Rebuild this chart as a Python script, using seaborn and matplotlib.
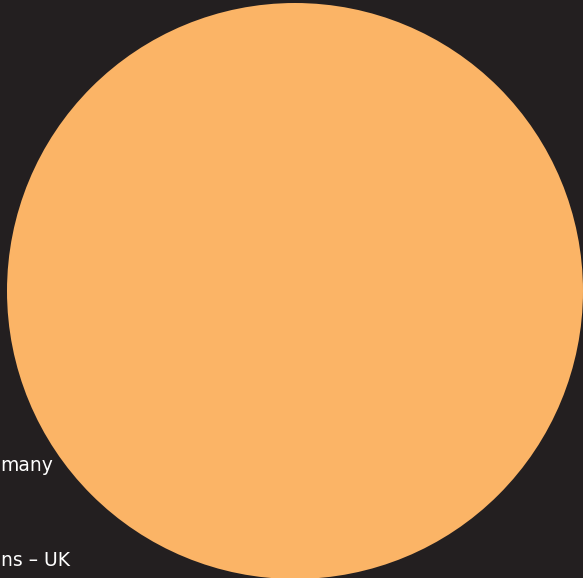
import matplotlib
matplotlib.use("Agg")
import matplotlib.pyplot as plt
import seaborn as sns
import pandas as pd

# Chart data: a close-up of one bubble; only the tails of two labels are in view
labels = ["many", "ns – UK"]
label_x = [0, 1]
label_y = [471, 566]

bubble_name = ["Total"]
bubble_x = [295]
bubble_y = [291]
bubble_value = [100]

BG = "#231f20"
ORANGE = "#fbb466"

sns.set_theme(style="dark")
plt.rcParams["font.family"] = ["DejaVu Sans"]

fig = plt.figure(figsize=(5.83, 5.78), dpi=100, facecolor=BG)
ax = fig.add_axes([0, 0, 1, 1])
ax.set_facecolor(BG)

df = pd.DataFrame({"name": bubble_name, "x": bubble_x, "y": bubble_y, "value": bubble_value})

# bubble diameter ~576 px, converted to points for the marker area
diam_pt = 576 * 72 / 100
sns.scatterplot(data=df, x="x", y="y", size="value", sizes=(diam_pt ** 2, diam_pt ** 2),
                color=ORANGE, edgecolor="none", linewidth=0, legend=False, ax=ax)

# labels are clipped by the frame in the original, so only their tails show
for lab, lx, ly in zip(labels, label_x, label_y):
    ax.text(lx, ly, lab, ha="left", va="baseline", color="white", fontsize=13.5)
    ax.texts[-1].set_x(lx)

ax.set_xlim(0, 583)
ax.set_ylim(578, 0)
ax.set_axis_off()

fig.savefig("out.png", dpi=100, facecolor=BG)
